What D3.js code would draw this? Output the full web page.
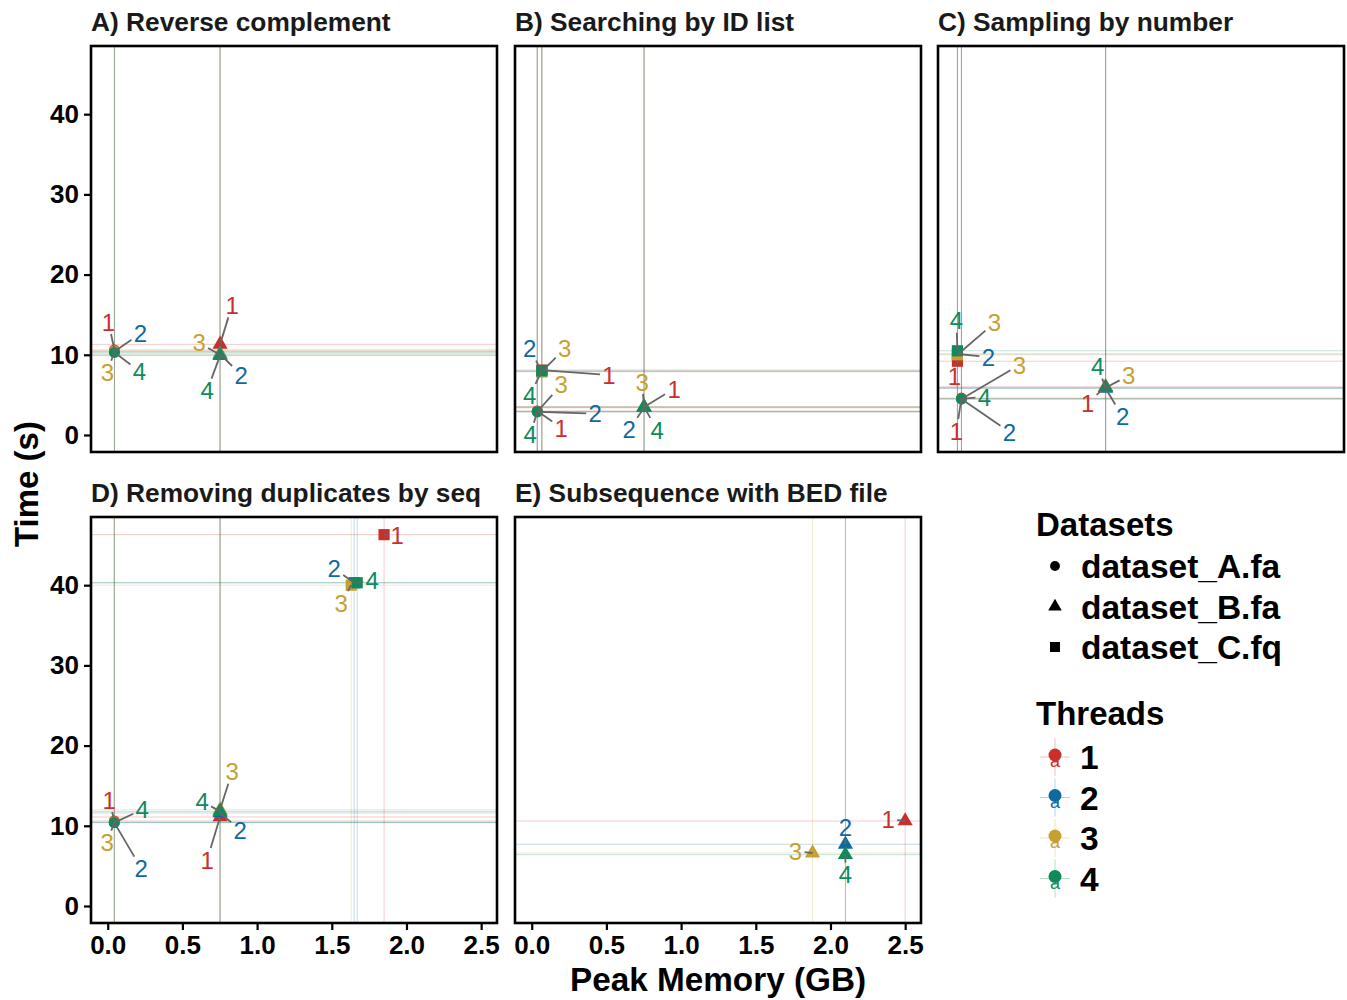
<!DOCTYPE html>
<html>
<head>
<meta charset="utf-8">
<script src="https://cdn.jsdelivr.net/npm/d3@7"></script>
<style>
  body { margin: 0; background: #fff; }
  svg { display: block; font-family: "Liberation Sans", Arial, sans-serif; }
</style>
</head>
<body>
<svg id="chart" width="1347" height="1000"></svg>
<script>
const panelTitles = ["A) Reverse complement", "B) Searching by ID list", "C) Sampling by number",
                     "D) Removing duplicates by seq", "E) Subsequence with BED file"];
const datasetNames = ["dataset_A.fa", "dataset_B.fa", "dataset_C.fq"];
const threadLevels = ["1", "2", "3", "4"];
const threadColors = ["#c9302c", "#0d6aa0", "#c7a032", "#0f8a5b"];
const xTicks = [0, 0.5, 1, 1.5, 2, 2.5];
const yTicks = [0, 10, 20, 30, 40];

// rows: dataset, threads, peak memory (GB), time (s)
const revComp = [
    ["dataset_A.fa", "1", 0.045, 10.6], ["dataset_A.fa", "2", 0.045, 10.4],
    ["dataset_A.fa", "3", 0.045, 10.5], ["dataset_A.fa", "4", 0.045, 10.3],
    ["dataset_B.fa", "1", 0.752, 11.3], ["dataset_B.fa", "2", 0.752, 10.1],
    ["dataset_B.fa", "3", 0.752, 10.0], ["dataset_B.fa", "4", 0.752, 9.9]
];
const searchIds = [
    ["dataset_C.fq", "1", 0.069, 8.1], ["dataset_C.fq", "2", 0.067, 7.9],
    ["dataset_C.fq", "3", 0.067, 7.9], ["dataset_C.fq", "4", 0.067, 8.0],
    ["dataset_A.fa", "1", 0.037, 3.0], ["dataset_A.fa", "2", 0.037, 2.9],
    ["dataset_A.fa", "3", 0.037, 2.9], ["dataset_A.fa", "4", 0.037, 2.9],
    ["dataset_B.fa", "1", 0.752, 3.5], ["dataset_B.fa", "2", 0.752, 3.4],
    ["dataset_B.fa", "3", 0.752, 3.5], ["dataset_B.fa", "4", 0.752, 3.5]
];
const sampleNum = [
    ["dataset_C.fq", "1", 0.018, 9.2], ["dataset_C.fq", "2", 0.018, 10.1],
    ["dataset_C.fq", "3", 0.018, 10.0], ["dataset_C.fq", "4", 0.018, 10.5],
    ["dataset_A.fa", "1", 0.045, 4.6], ["dataset_A.fa", "2", 0.045, 4.5],
    ["dataset_A.fa", "3", 0.045, 4.5], ["dataset_A.fa", "4", 0.045, 4.5],
    ["dataset_B.fa", "1", 1.01, 6.0], ["dataset_B.fa", "2", 1.01, 5.8],
    ["dataset_B.fa", "3", 1.01, 5.9], ["dataset_B.fa", "4", 1.01, 5.9]
];
const rmdupSeq = [
    ["dataset_A.fa", "1", 0.044, 10.6], ["dataset_A.fa", "2", 0.044, 10.4],
    ["dataset_A.fa", "3", 0.044, 10.5], ["dataset_A.fa", "4", 0.044, 10.4],
    ["dataset_B.fa", "1", 0.752, 11.1], ["dataset_B.fa", "2", 0.752, 11.6],
    ["dataset_B.fa", "3", 0.752, 12.0], ["dataset_B.fa", "4", 0.752, 11.8],
    ["dataset_C.fq", "1", 1.85, 46.3], ["dataset_C.fq", "2", 1.65, 40.3],
    ["dataset_C.fq", "3", 1.63, 40.0], ["dataset_C.fq", "4", 1.67, 40.3]
];
const subseqBed = [
    ["dataset_B.fa", "1", 2.50, 10.6], ["dataset_B.fa", "2", 2.10, 7.7],
    ["dataset_B.fa", "3", 1.88, 6.6], ["dataset_B.fa", "4", 2.10, 6.4]
];
const panelData = [revComp, searchIds, sampleNum, rmdupSeq, subseqBed];

// pixel nudges of the repelled thread labels, same order as the rows above
const labelNudge = [
    [[-6, -28], [26, -18], [-7, 22], [25, 19], [12, -39], [21, 21], [-21, -12], [-13, 35]],
    [[67, 5], [-12, -23], [23, -23], [-12, 25], [24, 17], [58, 2], [24, -27], [-7, 23],
     [30, -18], [-15, 22], [-2, -25], [13, 23]],
    [[-3, 15], [31, 3], [37, -32], [-1, -30], [-5, 33], [48, 33], [58, -34], [23, -2],
     [-18, 16], [17, 28], [23, -12], [-8, -21]],
    [[-5, -21], [27, 46], [-7, 21], [28, -13], [-13, 43], [20, 17], [12, -38], [-18, -10],
     [13, 1], [-20, -14], [-10, 18], [15, -2]],
    [[-17, -2], [0, -17], [-17, -2], [0, 20]]
];

const svg = d3.select("#chart");
const colX = [91, 515, 938], rowY = [46, 517];
const panelW = 406, panelH = 406;

const x = d3.scaleLinear().domain([-0.112, 2.606]).range([0, panelW]);
const y = d3.scaleLinear().domain([-2.12, 48.5]).range([panelH, 0]);
const color = d3.scaleOrdinal().domain(threadLevels).range(threadColors);
const shape = d3.scaleOrdinal().domain(datasetNames)
    .range([d3.symbolCircle, d3.symbolTriangle, d3.symbolSquare]);
const shapeSize = { "dataset_A.fa": 95, "dataset_B.fa": 100, "dataset_C.fq": 125 };

panelData.forEach((rows, p) => {
    const px = colX[p % 3], py = rowY[Math.floor(p / 3)];
    const g = svg.append("g").attr("transform", `translate(${px},${py})`);

    g.append("text").attr("x", 0).attr("y", -15)
        .attr("font-size", 26.3).attr("font-weight", "bold").attr("fill", "#1a1a1a")
        .text(panelTitles[p]);

    // reference lines through each point
    g.selectAll("line.v").data(rows).join("line").attr("class", "v")
        .attr("x1", d => x(d[2])).attr("x2", d => x(d[2]))
        .attr("y1", 0).attr("y2", panelH)
        .attr("stroke", d => color(d[1])).attr("stroke-opacity", 0.28).attr("stroke-width", 0.9);
    g.selectAll("line.h").data(rows).join("line").attr("class", "h")
        .attr("x1", 0).attr("x2", panelW)
        .attr("y1", d => y(d[3])).attr("y2", d => y(d[3]))
        .attr("stroke", d => color(d[1])).attr("stroke-opacity", 0.28).attr("stroke-width", 0.9);

    g.selectAll("path.pt").data(rows).join("path").attr("class", "pt")
        .attr("transform", d => `translate(${x(d[2])},${y(d[3])})`)
        .attr("d", d => d3.symbol().type(shape(d[0])).size(shapeSize[d[0]])())
        .attr("fill", d => color(d[1]));

    // repel segments, trimmed at the label box
    const nudge = labelNudge[p];
    rows.forEach((d, i) => {
        const x0 = x(d[2]), y0 = y(d[3]);
        const [dx, dy] = nudge[i];
        const len = Math.hypot(dx, dy);
        const t = Math.min(dx ? 9 / Math.abs(dx) : Infinity, dy ? 12 / Math.abs(dy) : Infinity);
        const tEnd = 1 - t;
        if (tEnd * len > 3) {
            g.append("line")
                .attr("x1", x0).attr("y1", y0)
                .attr("x2", x0 + dx * tEnd).attr("y2", y0 + dy * tEnd)
                .attr("stroke", "#666").attr("stroke-width", 1.8);
        }
        g.append("text")
            .attr("x", x0 + dx).attr("y", y0 + dy).attr("dy", "0.36em")
            .attr("text-anchor", "middle").attr("font-size", 24)
            .attr("fill", color(d[1])).text(d[1]);
    });

    g.append("rect").attr("width", panelW).attr("height", panelH)
        .attr("fill", "none").attr("stroke", "#000").attr("stroke-width", 2.6);

    // y axis on the first column
    if (p % 3 === 0) {
        const ya = g.append("g").call(d3.axisLeft(y).tickValues(yTicks).tickSize(7).tickPadding(5));
        ya.select(".domain").remove();
        ya.selectAll("line").attr("stroke", "#000").attr("stroke-width", 2.2);
        ya.selectAll("text").attr("font-size", 26).attr("font-weight", "bold")
            .attr("fill", "#000").attr("font-family", "Liberation Sans, Arial, sans-serif");
    }
    // x axis on the bottom row
    if (p >= 3) {
        const xa = g.append("g").attr("transform", `translate(0,${panelH})`)
            .call(d3.axisBottom(x).tickValues(xTicks).tickFormat(d3.format(".1f")).tickSize(7).tickPadding(6));
        xa.select(".domain").remove();
        xa.selectAll("line").attr("stroke", "#000").attr("stroke-width", 2.2);
        xa.selectAll("text").attr("font-size", 26).attr("font-weight", "bold")
            .attr("fill", "#000").attr("font-family", "Liberation Sans, Arial, sans-serif");
    }
});

svg.append("text").attr("x", 718).attr("y", 991).attr("text-anchor", "middle")
    .attr("font-size", 33.3).attr("font-weight", "bold").text("Peak Memory (GB)");
svg.append("text").attr("transform", "translate(38,484) rotate(-90)").attr("text-anchor", "middle")
    .attr("font-size", 33).attr("font-weight", "bold").text("Time (s)");

// legends
const leg = svg.append("g").attr("transform", "translate(1036,0)");
leg.append("text").attr("x", 0).attr("y", 536).attr("font-size", 33).attr("font-weight", "bold").text("Datasets");
datasetNames.forEach((name, i) => {
    const cy = 566 + i * 40.5;
    leg.append("path").attr("transform", `translate(19,${cy})`)
        .attr("d", d3.symbol().type(shape(name)).size(shapeSize[name] * 0.8)())
        .attr("fill", "#000");
    leg.append("text").attr("x", 45).attr("y", cy).attr("dy", "0.36em")
        .attr("font-size", 33.5).attr("font-weight", "bold").text(name);
});
leg.append("text").attr("x", 0).attr("y", 725).attr("font-size", 33).attr("font-weight", "bold").text("Threads");
threadLevels.forEach((t, i) => {
    const cy = 757 + i * 40.5;
    const c = color(t);
    leg.append("line").attr("x1", 4).attr("x2", 34).attr("y1", cy).attr("y2", cy)
        .attr("stroke", c).attr("stroke-opacity", 0.3).attr("stroke-width", 1);
    leg.append("line").attr("x1", 19).attr("x2", 19).attr("y1", cy - 19).attr("y2", cy + 19)
        .attr("stroke", c).attr("stroke-opacity", 0.3).attr("stroke-width", 1);
    leg.append("text").attr("x", 19).attr("y", cy + 10).attr("text-anchor", "middle")
        .attr("font-size", 18).attr("fill", c).text("a");
    leg.append("circle").attr("cx", 19).attr("cy", cy - 2).attr("r", 6.5).attr("fill", c);
    leg.append("text").attr("x", 44).attr("y", cy).attr("dy", "0.36em")
        .attr("font-size", 33.5).attr("font-weight", "bold").text(t);
});
</script>
</body>
</html>
